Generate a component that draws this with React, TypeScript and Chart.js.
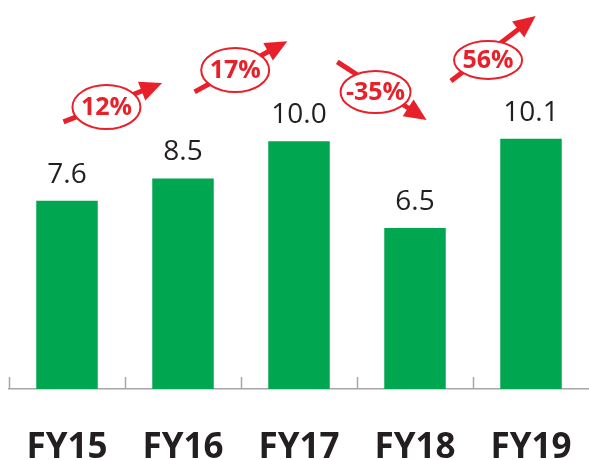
import React, { useEffect, useRef } from "react";
import { Chart, registerables } from "chart.js";

Chart.register(...registerables);

const categories = ["FY15", "FY16", "FY17", "FY18", "FY19"];
const values = [7.6, 8.5, 10.0, 6.5, 10.1];
const growthLabels = ["12%", "17%", "-35%", "56%"];
// arrow endpoints in (category index, value) units
const arrowFromX = [-0.03, 1.1, 2.33, 3.31];
const arrowFromY = [10.78, 11.99, 13.2, 12.43];
const arrowToX = [0.82, 1.9, 3.1, 4.04];
const arrowToY = [12.35, 14.04, 10.86, 15.05];
const badgeX = [0.34, 1.45, 2.66, 3.63];
const badgeY = [11.38, 12.87, 11.99, 13.28];

const GREEN = "#00A650";
const RED = "#E8202A";
const TEXT = "#231F20";
const AXIS = "#A6A6A6";
const BADGE_RX = [34, 34, 35, 34];
const BADGE_RY = [22, 22, 21, 19];

const overlay = {
  id: "overlay",
  afterDatasetsDraw(chart: any) {
    const ctx = chart.ctx as CanvasRenderingContext2D;
    const xs = chart.scales.x;
    const ys = chart.scales.y;
    const meta = chart.getDatasetMeta(0);
    ctx.save();
    // upward tick marks at category boundaries
    const half = (xs.getPixelForValue(1) - xs.getPixelForValue(0)) / 2;
    ctx.strokeStyle = AXIS;
    ctx.lineWidth = 1.5;
    for (let i = 0; i < categories.length; i++) {
      const px = Math.round(xs.getPixelForValue(i) - half) + 0.5;
      ctx.beginPath();
      ctx.moveTo(px, xs.top - 12);
      ctx.lineTo(px, xs.top);
      ctx.stroke();
    }
    // value labels
    ctx.font = '28px "Open Sans"';
    ctx.fillStyle = TEXT;
    ctx.textAlign = "center";
    ctx.textBaseline = "alphabetic";
    meta.data.forEach((bar: any, i: number) => {
      ctx.fillText(values[i].toFixed(1), bar.x, bar.y - 18);
    });
    // growth arrows
    for (let i = 0; i < growthLabels.length; i++) {
      const x1 = xs.getPixelForValue(arrowFromX[i]);
      const y1 = ys.getPixelForValue(arrowFromY[i]);
      const x2 = xs.getPixelForValue(arrowToX[i]);
      const y2 = ys.getPixelForValue(arrowToY[i]);
      const ang = Math.atan2(y2 - y1, x2 - x1);
      const head = 22;
      const hw = 10;
      const c = Math.cos(ang);
      const s = Math.sin(ang);
      const bx = x2 - head * c;
      const by = y2 - head * s;
      ctx.strokeStyle = RED;
      ctx.fillStyle = RED;
      ctx.lineWidth = 5;
      ctx.beginPath();
      ctx.moveTo(x1, y1);
      ctx.lineTo(bx + c, by + s);
      ctx.stroke();
      ctx.beginPath();
      ctx.moveTo(x2, y2);
      ctx.lineTo(bx + hw * s, by - hw * c);
      ctx.lineTo(bx - hw * s, by + hw * c);
      ctx.closePath();
      ctx.fill();
      const cx = xs.getPixelForValue(badgeX[i]);
      const cy = ys.getPixelForValue(badgeY[i]);
      ctx.beginPath();
      ctx.ellipse(cx, cy, BADGE_RX[i], BADGE_RY[i], 0, 0, Math.PI * 2);
      ctx.fillStyle = "#ffffff";
      ctx.fill();
      ctx.lineWidth = 2;
      ctx.strokeStyle = RED;
      ctx.stroke();
      ctx.fillStyle = RED;
      ctx.font = 'bold 25px "Open Sans"';
      ctx.textAlign = "center";
      ctx.textBaseline = "middle";
      ctx.fillText(growthLabels[i], cx, cy + 1);
    }
    ctx.restore();
  },
};

export default function App() {
  const ref = useRef<HTMLCanvasElement | null>(null);
  useEffect(() => {
    if (!ref.current) return;
    Chart.defaults.font.family = '"Open Sans"';
    const chart = new Chart(ref.current, {
      type: "bar",
      data: {
        labels: categories,
        datasets: [
          {
            data: values,
            backgroundColor: GREEN,
            borderWidth: 0,
            barPercentage: 0.53,
            categoryPercentage: 1,
          },
        ],
      },
      options: {
        animation: false,
        responsive: false,
        devicePixelRatio: 1,
        layout: { padding: { left: 9, right: 0, top: 0, bottom: 0 } },
        plugins: { legend: { display: false }, tooltip: { enabled: false } },
        scales: {
          x: {
            grid: {
              display: true,
              drawOnChartArea: false,
              drawTicks: true,
              tickLength: 38,
              tickColor: "rgba(0,0,0,0)",
              color: "rgba(0,0,0,0)",
            },
            border: { display: true, color: AXIS, width: 1.5 },
            ticks: {
              color: TEXT,
              font: { family: '"Open Sans"', size: 35, weight: "bold", lineHeight: 1.2 },
              padding: 0,
              autoSkip: false,
              maxRotation: 0,
            },
            afterFit: (s: any) => {
              s.height = 71;
            },
          },
          y: { display: false, min: 0, max: 15.7 },
        },
      },
      plugins: [overlay],
    } as any);
    return () => chart.destroy();
  }, []);
  return (
    <div style={{ position: "absolute", left: 0, top: 0, width: 589, height: 460 }}>
      <canvas ref={ref} width={589} height={460} />
    </div>
  );
}
